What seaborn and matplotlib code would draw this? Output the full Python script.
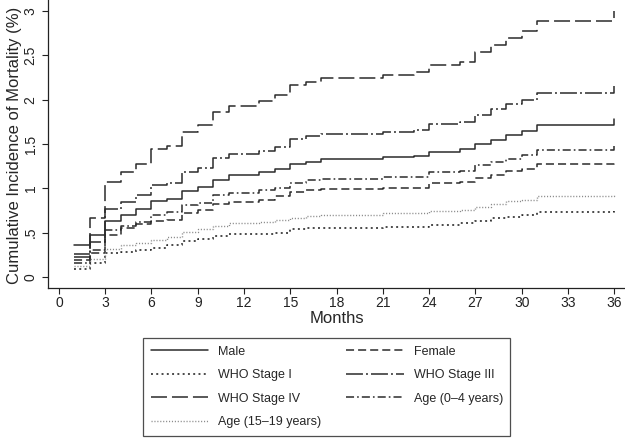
import matplotlib
matplotlib.use("Agg")
import matplotlib.pyplot as plt
import seaborn as sns
import pandas as pd

# ---- data ----
months = [1, 2, 3, 4, 5, 6, 7, 8, 9, 10, 11, 13, 14, 15, 16, 17, 21, 23, 24, 26, 27, 28, 29, 30, 31, 36]

male = [0.36, 0.47, 0.63, 0.70, 0.77, 0.86, 0.88, 0.97, 1.01, 1.09, 1.15, 1.18, 1.22, 1.28, 1.30, 1.33,
        1.35, 1.37, 1.41, 1.44, 1.50, 1.55, 1.60, 1.65, 1.71, 1.78]
female = [0.19, 0.27, 0.47, 0.55, 0.60, 0.63, 0.64, 0.72, 0.76, 0.82, 0.85, 0.87, 0.91, 0.96, 0.98, 0.99,
          1.00, 1.00, 1.06, 1.07, 1.12, 1.15, 1.20, 1.22, 1.28, 1.29]
who1 = [0.09, 0.16, 0.27, 0.28, 0.30, 0.33, 0.36, 0.41, 0.43, 0.46, 0.485, 0.49, 0.50, 0.54, 0.55, 0.555,
        0.56, 0.56, 0.59, 0.61, 0.635, 0.66, 0.68, 0.70, 0.73, 0.75]
who3 = [0.23, 0.39, 0.77, 0.85, 0.93, 1.04, 1.06, 1.18, 1.23, 1.34, 1.39, 1.42, 1.47, 1.56, 1.59, 1.61,
        1.64, 1.66, 1.72, 1.75, 1.83, 1.89, 1.95, 2.00, 2.08, 2.15]
who4 = [0.265, 0.66, 1.07, 1.18, 1.28, 1.44, 1.48, 1.63, 1.71, 1.86, 1.93, 1.98, 2.05, 2.17, 2.20, 2.24,
        2.28, 2.31, 2.39, 2.43, 2.54, 2.62, 2.70, 2.77, 2.89, 3.00]
age04 = [0.155, 0.30, 0.53, 0.58, 0.62, 0.70, 0.73, 0.81, 0.84, 0.93, 0.95, 0.98, 1.00, 1.06, 1.09, 1.10,
         1.13, 1.13, 1.18, 1.20, 1.26, 1.30, 1.33, 1.38, 1.43, 1.48]
age1519 = [0.12, 0.20, 0.32, 0.36, 0.38, 0.42, 0.45, 0.51, 0.54, 0.575, 0.61, 0.62, 0.64, 0.67, 0.69, 0.70,
           0.72, 0.72, 0.75, 0.76, 0.79, 0.82, 0.86, 0.87, 0.91, 0.93]

labels = ["Male", "Female", "WHO Stage I", "WHO Stage III", "WHO Stage IV",
          "Age (0\u20134 years)", "Age (15\u201319 years)"]
series = [male, female, who1, who3, who4, age04, age1519]

x_ticks = list(range(0, 37, 3))
y_ticks = [0, 0.5, 1, 1.5, 2, 2.5, 3]
y_ticklabels = ["0", ".5", "1", "1.5", "2", "2.5", "3"]

# ---- styles ----
dark = "#2b2b2b"
styles = {
    "Male": dict(ls="-", color=dark, lw=1.1),
    "Female": dict(ls=(0, (5.8, 2.9)), color=dark, lw=1.1),
    "WHO Stage I": dict(ls=(0, (1.4, 2.4)), color=dark, lw=1.2),
    "WHO Stage III": dict(ls=(0, (12.2, 2.2, 1.4, 2.2)), color=dark, lw=1.1),
    "WHO Stage IV": dict(ls=(0, (11.5, 3.6)), color=dark, lw=1.1),
    "Age (0\u20134 years)": dict(ls=(0, (5.8, 2.2, 1.2, 2.2)), color=dark, lw=1.1),
    "Age (15\u201319 years)": dict(ls=(0, (0.8, 1.3)), color="#8a8a8a", lw=1.0),
}

sns.set_style("ticks")
plt.rcParams["font.family"] = ["Liberation Sans", "DejaVu Sans"]
plt.rcParams["lines.scale_dashes"] = False

fig = plt.figure(figsize=(6.25, 4.4), dpi=100)
ax = fig.add_axes([48 / 625, 1 - 288 / 440, 1 - 48 / 625, 288 / 440])

handles = {}
for lab, vals in zip(labels, series):
    df = pd.DataFrame({"Months": months, "CI": vals})
    st = styles[lab]
    sns.lineplot(data=df, x="Months", y="CI", ax=ax, drawstyle="steps-post",
                 linestyle=st["ls"], color=st["color"], linewidth=st["lw"],
                 errorbar=None, label=lab, legend=False)
    handles[lab] = ax.get_lines()[-1]

ax.set_xlim(-0.71, 36.7)
ax.set_ylim(-0.124, 3.124)
ax.set_xticks(x_ticks)
ax.set_xticklabels([str(t) for t in x_ticks])
ax.set_yticks(y_ticks)
ax.set_yticklabels(y_ticklabels, rotation=90, va="center")

for s in ["top", "right"]:
    ax.spines[s].set_visible(False)
for s in ["left", "bottom"]:
    ax.spines[s].set_color("#222222")
    ax.spines[s].set_linewidth(0.9)

ax.tick_params(axis="both", direction="out", length=4, width=0.8, colors="#222222",
               labelsize=10)
ax.tick_params(axis="x", pad=1.5)
ax.tick_params(axis="y", pad=3.5)
ax.set_xlabel("Months", fontsize=12, labelpad=1)
ax.set_ylabel("Cumulative Incidence of Mortality (%)", fontsize=12)
ax.yaxis.set_label_coords((22 - 48) / 577, 0.495)

order = ["Male", "WHO Stage I", "WHO Stage IV", "Age (15\u201319 years)",
         "Female", "WHO Stage III", "Age (0\u20134 years)"]
leg = fig.legend([handles[k] for k in order], order, ncol=2,
                 loc="upper left", bbox_to_anchor=(143 / 625, 1 - 338 / 440),
                 frameon=True, fancybox=False, fontsize=9,
                 handlelength=4.6, handletextpad=0.8, columnspacing=2.0,
                 labelspacing=0.92, borderpad=0.6, borderaxespad=0)
leg.get_frame().set_edgecolor("#222222")
leg.get_frame().set_linewidth(0.9)

fig.savefig("out.png", dpi=100)
